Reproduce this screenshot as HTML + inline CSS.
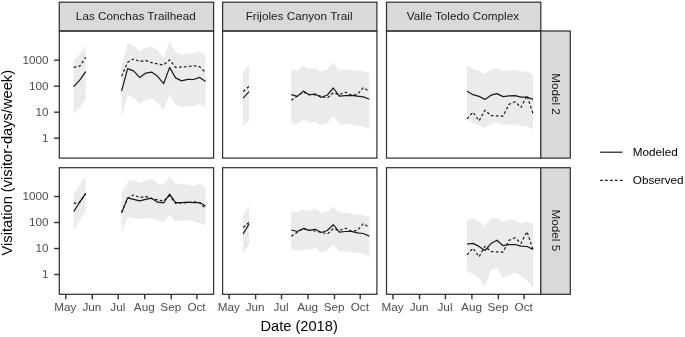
<!DOCTYPE html><html><head><meta charset="utf-8"><style>
html,body{margin:0;padding:0;background:#fff}
svg{display:block;font-family:"Liberation Sans",sans-serif;will-change:transform;opacity:0.999}
.rb{fill:#ebebeb;stroke:none}
.sl{fill:none;stroke:#1a1a1a;stroke-width:1.2;stroke-linejoin:round}
.dl{fill:none;stroke:#1a1a1a;stroke-width:1.2;stroke-dasharray:2.7 2.25;stroke-linejoin:round}
.pb{fill:none;stroke:#333;stroke-width:1.25}
.st{fill:#d9d9d9;stroke:#333;stroke-width:1.25}
.tk{stroke:#333;stroke-width:1.4}
.tl{fill:#4d4d4d;font-size:11.73px}
.stt{fill:#1a1a1a;font-size:11.73px}
.at{fill:#000;font-size:14.67px}
.lg{fill:#000;font-size:11.73px}

</style></head><body>
<svg width="685" height="337" viewBox="0 0 685 337">
<rect width="685" height="337" fill="#fff"/>
<polygon class="rb" points="73.7,60.5 79.7,54.2 85.7,45.6 85.7,98.9 79.7,107.5 73.7,113.8"/>
<polygon class="rb" points="121.6,65.4 127.6,42.8 133.6,45.1 139.6,51.6 145.6,47.4 151.6,46.3 157.6,50.5 163.6,57.9 169.6,41.6 175.6,52.1 181.6,55.1 187.6,53.5 193.6,53.7 199.6,51.6 205.6,55.6 205.6,107.9 199.6,103.9 193.6,106.0 187.6,105.8 181.6,107.4 175.6,104.4 169.6,93.9 163.6,110.2 157.6,102.8 151.6,98.6 145.6,99.7 139.6,103.9 133.6,97.4 127.6,95.1 121.6,117.7"/>
<polygon class="rb" points="243.1,71.4 249.1,65.7 249.1,120.2 243.1,126.5"/>
<polygon class="rb" points="291.3,68.9 297.3,70.7 303.3,65.4 309.3,69.3 315.3,68.2 321.3,71.7 327.3,69.3 333.3,62.3 339.3,70.5 345.3,70.0 351.3,69.6 357.3,70.5 363.3,71.2 369.3,73.6 369.3,129.3 363.3,126.5 357.3,125.5 351.3,124.3 345.3,124.5 339.3,124.7 333.3,116.0 327.3,123.0 321.3,125.4 315.3,121.9 309.3,123.0 303.3,119.1 297.3,124.4 291.3,122.6"/>
<polygon class="rb" points="467.0,65.5 473.0,69.0 479.0,70.7 485.0,73.7 491.0,69.5 497.0,67.9 503.0,70.9 509.0,70.2 515.0,70.0 521.0,71.4 527.0,71.4 533.0,73.7 533.0,129.2 527.0,126.4 521.0,126.1 515.0,124.5 509.0,124.4 503.0,125.1 497.0,122.1 491.0,123.7 485.0,128.5 479.0,124.9 473.0,123.2 467.0,119.7"/>
<polygon class="rb" points="73.7,194.0 79.7,184.6 85.7,176.0 85.7,211.9 79.7,220.5 73.7,229.9"/>
<polygon class="rb" points="121.6,192.8 127.6,182.1 133.6,180.1 139.6,182.8 145.6,180.7 151.6,178.3 157.6,183.8 163.6,184.8 169.6,176.0 175.6,183.4 181.6,184.1 187.6,184.5 193.6,185.8 199.6,183.4 205.6,188.1 205.6,225.3 199.6,222.9 193.6,221.5 187.6,220.2 181.6,220.8 175.6,221.2 169.6,214.8 163.6,222.2 157.6,220.4 151.6,217.8 145.6,218.6 139.6,219.1 133.6,218.2 127.6,217.2 121.6,232.0"/>
<polygon class="rb" points="243.1,214.6 249.1,205.4 249.1,244.2 243.1,253.2"/>
<polygon class="rb" points="291.3,211.2 297.3,212.1 303.3,209.2 309.3,211.2 315.3,208.9 321.3,212.9 327.3,211.6 333.3,206.8 339.3,212.1 345.3,212.9 351.3,213.5 357.3,214.5 363.3,215.1 369.3,216.4 369.3,256.9 363.3,253.6 357.3,252.9 351.3,252.0 345.3,251.6 339.3,251.6 333.3,245.1 327.3,250.3 321.3,252.7 315.3,248.1 309.3,249.9 303.3,249.7 297.3,250.7 291.3,249.9"/>
<polygon class="rb" points="467.0,220.3 473.0,218.3 479.0,221.6 485.0,225.8 491.0,218.9 497.0,217.4 503.0,222.2 509.0,219.6 515.0,220.5 521.0,222.9 527.0,221.6 533.0,223.5 533.0,288.0 527.0,280.1 521.0,276.3 515.0,272.4 509.0,275.2 503.0,278.0 497.0,267.7 491.0,270.3 485.0,285.9 479.0,278.4 473.0,274.1 467.0,270.9"/>
<polyline class="dl" points="73.7,67.4 79.7,66.2 85.7,57.3"/>
<polyline class="dl" points="121.6,76.3 127.6,62.2 133.6,59.0 139.6,61.5 145.6,60.4 151.6,62.7 157.6,63.9 163.6,65.0 169.6,59.9 175.6,67.4 181.6,66.9 187.6,66.7 193.6,65.7 199.6,66.7 205.6,72.5"/>
<polyline class="sl" points="73.7,86.5 79.7,80.2 85.7,71.6"/>
<polyline class="sl" points="121.6,91.2 127.6,68.6 133.6,70.9 139.6,77.4 145.6,73.2 151.6,72.1 157.6,76.3 163.6,83.7 169.6,67.4 175.6,77.9 181.6,80.9 187.6,79.3 193.6,79.5 199.6,77.4 205.6,81.4"/>
<polyline class="dl" points="73.7,203.4 79.7,202.2 85.7,193.3"/>
<polyline class="dl" points="121.6,212.3 127.6,198.2 133.6,195.0 139.6,197.5 145.6,196.4 151.6,198.7 157.6,199.9 163.6,201.0 169.6,195.9 175.6,203.4 181.6,202.9 187.6,202.7 193.6,201.7 199.6,202.7 205.6,208.5"/>
<polyline class="sl" points="73.7,211.6 79.7,202.2 85.7,193.6"/>
<polyline class="sl" points="121.6,212.7 127.6,197.9 133.6,199.3 139.6,200.9 145.6,199.3 151.6,198.2 157.6,202.2 163.6,202.9 169.6,194.1 175.6,202.7 181.6,202.6 187.6,202.2 193.6,202.7 199.6,202.6 205.6,206.1"/>
<polyline class="dl" points="243.1,91.5 249.1,86.4"/>
<polyline class="dl" points="291.3,100.2 297.3,96.2 303.3,92.2 309.3,94.3 315.3,95.0 321.3,96.2 327.3,98.1 333.3,92.7 339.3,94.6 345.3,92.2 351.3,95.0 357.3,94.6 363.3,87.6 369.3,91.5"/>
<polyline class="sl" points="243.1,98.1 249.1,91.6"/>
<polyline class="sl" points="291.3,94.6 297.3,96.4 303.3,91.1 309.3,95.0 315.3,93.9 321.3,97.4 327.3,95.0 333.3,88.0 339.3,96.2 345.3,95.7 351.3,95.3 357.3,96.2 363.3,96.9 369.3,99.3"/>
<polyline class="dl" points="243.1,227.5 249.1,222.4"/>
<polyline class="dl" points="291.3,236.2 297.3,232.2 303.3,228.2 309.3,230.3 315.3,231.0 321.3,232.2 327.3,234.1 333.3,228.7 339.3,230.6 345.3,228.2 351.3,231.0 357.3,230.6 363.3,223.6 369.3,227.5"/>
<polyline class="sl" points="243.1,233.9 249.1,224.0"/>
<polyline class="sl" points="291.3,230.0 297.3,231.5 303.3,228.6 309.3,230.4 315.3,229.3 321.3,232.5 327.3,230.5 333.3,224.7 339.3,232.2 345.3,231.5 351.3,231.4 357.3,232.8 363.3,233.5 369.3,236.1"/>
<polyline class="dl" points="467.0,118.8 473.0,112.2 479.0,120.8 485.0,110.2 491.0,115.6 497.0,115.9 503.0,116.2 509.0,104.4 515.0,101.7 521.0,107.4 527.0,95.6 533.0,113.6"/>
<polyline class="sl" points="467.0,91.2 473.0,94.7 479.0,96.4 485.0,99.4 491.0,95.2 497.0,93.6 503.0,96.6 509.0,95.9 515.0,95.7 521.0,97.1 527.0,97.1 533.0,99.4"/>
<polyline class="dl" points="467.0,254.8 473.0,248.2 479.0,256.8 485.0,246.2 491.0,251.6 497.0,251.9 503.0,252.2 509.0,240.4 515.0,237.7 521.0,243.4 527.0,231.6 533.0,249.6"/>
<polyline class="sl" points="467.0,244.1 473.0,243.4 479.0,246.4 485.0,250.5 491.0,243.6 497.0,240.2 503.0,245.7 509.0,244.6 515.0,244.5 521.0,246.1 527.0,246.5 533.0,249.4"/>
<rect class="st" x="59.3" y="2.2" width="154.3" height="28.8"/>
<text class="stt" x="135.8" y="20.1" text-anchor="middle">Las Conchas Trailhead</text>
<rect class="pb" x="59.3" y="31.0" width="154.3" height="127.1"/>
<rect class="pb" x="59.3" y="167.7" width="154.3" height="126.60000000000002"/>
<rect class="st" x="222.6" y="2.2" width="154.3" height="28.8"/>
<text class="stt" x="299.1" y="20.1" text-anchor="middle">Frijoles Canyon Trail</text>
<rect class="pb" x="222.6" y="31.0" width="154.3" height="127.1"/>
<rect class="pb" x="222.6" y="167.7" width="154.3" height="126.60000000000002"/>
<rect class="st" x="386.5" y="2.2" width="154.3" height="28.8"/>
<text class="stt" x="462.9" y="20.1" text-anchor="middle">Valle Toledo Complex</text>
<rect class="pb" x="386.5" y="31.0" width="154.3" height="127.1"/>
<rect class="pb" x="386.5" y="167.7" width="154.3" height="126.60000000000002"/>
<rect class="st" x="540.8" y="31.0" width="29.5" height="127.1"/>
<text class="stt" transform="translate(551.8,94.0) rotate(90)" text-anchor="middle">Model 2</text>
<rect class="st" x="540.8" y="167.7" width="29.5" height="126.60000000000002"/>
<text class="stt" transform="translate(551.8,230.4) rotate(90)" text-anchor="middle">Model 5</text>
<line class="tk" x1="54.099999999999994" x2="59.3" y1="138.2" y2="138.2"/>
<text class="tl" x="48.5" y="141.8" text-anchor="end">1</text>
<line class="tk" x1="54.099999999999994" x2="59.3" y1="112.2" y2="112.2"/>
<text class="tl" x="48.5" y="115.8" text-anchor="end">10</text>
<line class="tk" x1="54.099999999999994" x2="59.3" y1="86.2" y2="86.2"/>
<text class="tl" x="48.5" y="89.8" text-anchor="end">100</text>
<line class="tk" x1="54.099999999999994" x2="59.3" y1="60.2" y2="60.2"/>
<text class="tl" x="48.5" y="63.8" text-anchor="end">1000</text>
<line class="tk" x1="54.099999999999994" x2="59.3" y1="274.5" y2="274.5"/>
<text class="tl" x="48.5" y="278.1" text-anchor="end">1</text>
<line class="tk" x1="54.099999999999994" x2="59.3" y1="248.5" y2="248.5"/>
<text class="tl" x="48.5" y="252.1" text-anchor="end">10</text>
<line class="tk" x1="54.099999999999994" x2="59.3" y1="222.5" y2="222.5"/>
<text class="tl" x="48.5" y="226.1" text-anchor="end">100</text>
<line class="tk" x1="54.099999999999994" x2="59.3" y1="196.5" y2="196.5"/>
<text class="tl" x="48.5" y="200.1" text-anchor="end">1000</text>
<line class="tk" x1="65.8" x2="65.8" y1="294.3" y2="299.3"/>
<text class="tl" x="65.4" y="310.5" text-anchor="middle">May</text>
<line class="tk" x1="92.3" x2="92.3" y1="294.3" y2="299.3"/>
<text class="tl" x="91.9" y="310.5" text-anchor="middle">Jun</text>
<line class="tk" x1="118.2" x2="118.2" y1="294.3" y2="299.3"/>
<text class="tl" x="117.8" y="310.5" text-anchor="middle">Jul</text>
<line class="tk" x1="144.7" x2="144.7" y1="294.3" y2="299.3"/>
<text class="tl" x="144.3" y="310.5" text-anchor="middle">Aug</text>
<line class="tk" x1="171.2" x2="171.2" y1="294.3" y2="299.3"/>
<text class="tl" x="170.8" y="310.5" text-anchor="middle">Sep</text>
<line class="tk" x1="196.9" x2="196.9" y1="294.3" y2="299.3"/>
<text class="tl" x="196.5" y="310.5" text-anchor="middle">Oct</text>
<line class="tk" x1="229.1" x2="229.1" y1="294.3" y2="299.3"/>
<text class="tl" x="228.7" y="310.5" text-anchor="middle">May</text>
<line class="tk" x1="255.6" x2="255.6" y1="294.3" y2="299.3"/>
<text class="tl" x="255.2" y="310.5" text-anchor="middle">Jun</text>
<line class="tk" x1="281.5" x2="281.5" y1="294.3" y2="299.3"/>
<text class="tl" x="281.1" y="310.5" text-anchor="middle">Jul</text>
<line class="tk" x1="308.0" x2="308.0" y1="294.3" y2="299.3"/>
<text class="tl" x="307.6" y="310.5" text-anchor="middle">Aug</text>
<line class="tk" x1="334.5" x2="334.5" y1="294.3" y2="299.3"/>
<text class="tl" x="334.1" y="310.5" text-anchor="middle">Sep</text>
<line class="tk" x1="360.2" x2="360.2" y1="294.3" y2="299.3"/>
<text class="tl" x="359.8" y="310.5" text-anchor="middle">Oct</text>
<line class="tk" x1="393.0" x2="393.0" y1="294.3" y2="299.3"/>
<text class="tl" x="392.6" y="310.5" text-anchor="middle">May</text>
<line class="tk" x1="419.5" x2="419.5" y1="294.3" y2="299.3"/>
<text class="tl" x="419.1" y="310.5" text-anchor="middle">Jun</text>
<line class="tk" x1="445.4" x2="445.4" y1="294.3" y2="299.3"/>
<text class="tl" x="445.0" y="310.5" text-anchor="middle">Jul</text>
<line class="tk" x1="471.9" x2="471.9" y1="294.3" y2="299.3"/>
<text class="tl" x="471.5" y="310.5" text-anchor="middle">Aug</text>
<line class="tk" x1="498.4" x2="498.4" y1="294.3" y2="299.3"/>
<text class="tl" x="498.0" y="310.5" text-anchor="middle">Sep</text>
<line class="tk" x1="524.1" x2="524.1" y1="294.3" y2="299.3"/>
<text class="tl" x="523.7" y="310.5" text-anchor="middle">Oct</text>
<text class="at" x="299.1" y="331.3" text-anchor="middle">Date (2018)</text>
<text class="at" transform="translate(11.8,162.7) rotate(-90)" text-anchor="middle">Visitation (visitor-days/week)</text>
<line class="sl" x1="600.1" x2="622.6" y1="152.2" y2="152.2"/>
<line class="dl" x1="600.1" x2="622.6" y1="180.4" y2="180.4"/>
<text class="lg" x="632.8" y="155.8">Modeled</text>
<text class="lg" x="632.8" y="184.1">Observed</text>
</svg></body></html>
